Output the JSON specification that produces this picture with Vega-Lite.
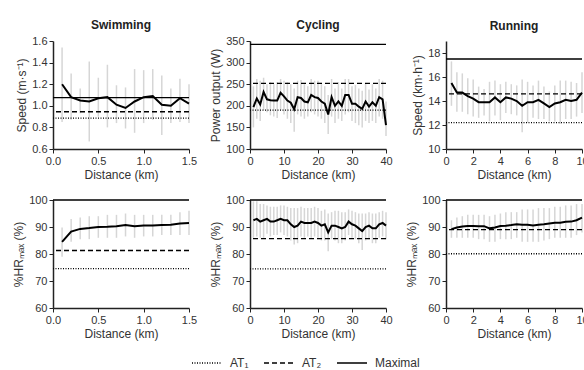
{
  "$schema": "https://vega.github.io/schema/vega-lite/v6.json",
  "padding": {"top": 19, "left": 12, "right": 0, "bottom": 4},
  "config": {
    "font": "Liberation Sans",
    "view": {"stroke": null},
    "axis": {"grid": false, "tickCount": 12, "labelFontSize": 11, "labelColor": "#333", "titleFontSize": 12, "titleFontWeight": "normal", "titleColor": "#333", "domainColor": "#222", "domainWidth": 1.5, "tickColor": "#222", "tickSize": 4, "tickWidth": 1, "labelPadding": 2, "titlePadding": 3, "labelOverlap": false, "labelFlush": false},
    "title": {"fontSize": 12, "fontWeight": "bold", "color": "#222"},
    "legend": {"orient": "none", "legendX": 138, "legendY": 306, "direction": "horizontal", "labelFontSize": 12, "labelColor": "#333", "symbolStrokeColor": "black", "symbolStrokeWidth": 1.3, "symbolSize": 900, "columnPadding": 12, "labelOffset": 7}
  },
  "datasets": {
    "swimSpeed": [
      {"d": 0.1, "m": 1.20, "lo": 0.85, "hi": 1.54},
      {"d": 0.2, "m": 1.08, "lo": 0.87, "hi": 1.30},
      {"d": 0.3, "m": 1.05, "lo": 0.93, "hi": 1.16},
      {"d": 0.4, "m": 1.04, "lo": 0.67, "hi": 1.41},
      {"d": 0.5, "m": 1.07, "lo": 0.90, "hi": 1.26},
      {"d": 0.6, "m": 1.08, "lo": 0.80, "hi": 1.38},
      {"d": 0.7, "m": 1.01, "lo": 0.84, "hi": 1.19},
      {"d": 0.8, "m": 0.98, "lo": 0.79, "hi": 1.17},
      {"d": 0.9, "m": 1.04, "lo": 0.75, "hi": 1.34},
      {"d": 1.0, "m": 1.08, "lo": 0.84, "hi": 1.33},
      {"d": 1.1, "m": 1.09, "lo": 0.87, "hi": 1.34},
      {"d": 1.2, "m": 1.01, "lo": 0.73, "hi": 1.28},
      {"d": 1.3, "m": 1.00, "lo": 0.84, "hi": 1.16},
      {"d": 1.4, "m": 1.07, "lo": 0.85, "hi": 1.25},
      {"d": 1.5, "m": 1.02, "lo": 0.84, "hi": 1.20}
    ],
    "cyclePower": [
      {"d": 1, "m": 197, "lo": 150, "hi": 245},
      {"d": 2, "m": 217, "lo": 170, "hi": 262},
      {"d": 3, "m": 203, "lo": 165, "hi": 258},
      {"d": 4, "m": 232, "lo": 190, "hi": 265},
      {"d": 5, "m": 215, "lo": 185, "hi": 250},
      {"d": 6, "m": 213, "lo": 178, "hi": 255},
      {"d": 7, "m": 212, "lo": 175, "hi": 250},
      {"d": 8, "m": 212, "lo": 172, "hi": 255},
      {"d": 9, "m": 230, "lo": 190, "hi": 262},
      {"d": 10, "m": 222, "lo": 180, "hi": 258},
      {"d": 11, "m": 212, "lo": 170, "hi": 255},
      {"d": 12, "m": 207, "lo": 160, "hi": 250},
      {"d": 13, "m": 192, "lo": 140, "hi": 240},
      {"d": 14, "m": 220, "lo": 180, "hi": 258},
      {"d": 15, "m": 218, "lo": 175, "hi": 260},
      {"d": 16, "m": 210, "lo": 170, "hi": 250},
      {"d": 17, "m": 208, "lo": 175, "hi": 245},
      {"d": 18, "m": 225, "lo": 185, "hi": 262},
      {"d": 19, "m": 220, "lo": 180, "hi": 258},
      {"d": 20, "m": 218, "lo": 175, "hi": 258},
      {"d": 21, "m": 210, "lo": 170, "hi": 250},
      {"d": 22, "m": 205, "lo": 160, "hi": 245},
      {"d": 23, "m": 180, "lo": 135, "hi": 225},
      {"d": 24, "m": 220, "lo": 175, "hi": 262},
      {"d": 25, "m": 200, "lo": 160, "hi": 240},
      {"d": 26, "m": 210, "lo": 170, "hi": 255},
      {"d": 27, "m": 200, "lo": 165, "hi": 240},
      {"d": 28, "m": 225, "lo": 180, "hi": 262},
      {"d": 29, "m": 225, "lo": 185, "hi": 262},
      {"d": 30, "m": 205, "lo": 165, "hi": 245},
      {"d": 31, "m": 205, "lo": 160, "hi": 248},
      {"d": 32, "m": 198, "lo": 155, "hi": 240},
      {"d": 33, "m": 193, "lo": 150, "hi": 235},
      {"d": 34, "m": 210, "lo": 165, "hi": 252},
      {"d": 35, "m": 198, "lo": 160, "hi": 238},
      {"d": 36, "m": 208, "lo": 165, "hi": 250},
      {"d": 37, "m": 200, "lo": 160, "hi": 240},
      {"d": 38, "m": 220, "lo": 175, "hi": 262},
      {"d": 39, "m": 215, "lo": 170, "hi": 258},
      {"d": 40, "m": 155, "lo": 130, "hi": 210}
    ],
    "runSpeed": [
      {"d": 0.4, "m": 15.5, "lo": 13.6, "hi": 17.3},
      {"d": 0.8, "m": 14.7, "lo": 13.1, "hi": 16.4},
      {"d": 1.2, "m": 14.7, "lo": 13.1, "hi": 16.3},
      {"d": 1.6, "m": 14.4, "lo": 12.9, "hi": 15.9},
      {"d": 2.0, "m": 14.2, "lo": 12.7, "hi": 15.8},
      {"d": 2.4, "m": 13.9, "lo": 12.6, "hi": 15.2},
      {"d": 2.8, "m": 13.9, "lo": 12.8, "hi": 15.0},
      {"d": 3.2, "m": 13.9, "lo": 12.3, "hi": 15.6},
      {"d": 3.6, "m": 14.3, "lo": 12.8, "hi": 15.7},
      {"d": 4.0, "m": 13.9, "lo": 12.4, "hi": 15.4},
      {"d": 4.4, "m": 14.3, "lo": 13.0, "hi": 15.6},
      {"d": 4.8, "m": 14.2, "lo": 12.9, "hi": 15.4},
      {"d": 5.2, "m": 14.0, "lo": 12.8, "hi": 15.3},
      {"d": 5.6, "m": 13.6, "lo": 11.4, "hi": 15.8},
      {"d": 6.0, "m": 13.9, "lo": 12.2, "hi": 15.6},
      {"d": 6.4, "m": 13.9, "lo": 12.6, "hi": 15.3},
      {"d": 6.8, "m": 14.1, "lo": 12.5, "hi": 15.7},
      {"d": 7.2, "m": 13.8, "lo": 12.5, "hi": 15.2},
      {"d": 7.6, "m": 13.5, "lo": 12.3, "hi": 14.8},
      {"d": 8.0, "m": 13.8, "lo": 12.3, "hi": 15.3},
      {"d": 8.4, "m": 13.9, "lo": 12.1, "hi": 15.7},
      {"d": 8.8, "m": 14.1, "lo": 12.5, "hi": 15.7},
      {"d": 9.2, "m": 14.0, "lo": 12.5, "hi": 15.6},
      {"d": 9.6, "m": 14.1, "lo": 12.7, "hi": 15.5},
      {"d": 10.0, "m": 14.7, "lo": 13.0, "hi": 16.4}
    ],
    "swimHR": [
      {"d": 0.1, "m": 84.5, "lo": 79, "hi": 89.8},
      {"d": 0.2, "m": 88.3, "lo": 84.5, "hi": 93},
      {"d": 0.3, "m": 89.3, "lo": 85.5, "hi": 93.5},
      {"d": 0.4, "m": 89.6, "lo": 85.5, "hi": 94},
      {"d": 0.5, "m": 90.0, "lo": 86, "hi": 94},
      {"d": 0.6, "m": 90.1, "lo": 86, "hi": 94.5},
      {"d": 0.7, "m": 90.3, "lo": 86, "hi": 94.5},
      {"d": 0.8, "m": 90.7, "lo": 86.5, "hi": 95},
      {"d": 0.9, "m": 90.3, "lo": 86, "hi": 94.5},
      {"d": 1.0, "m": 90.6, "lo": 86.5, "hi": 94.5},
      {"d": 1.1, "m": 90.6, "lo": 86.5, "hi": 94.5},
      {"d": 1.2, "m": 90.7, "lo": 87, "hi": 94.5},
      {"d": 1.3, "m": 90.8, "lo": 87, "hi": 94.5},
      {"d": 1.4, "m": 91.3, "lo": 87, "hi": 95.5},
      {"d": 1.5, "m": 91.5, "lo": 87, "hi": 96}
    ],
    "cycleHR": [
      {"d": 1, "m": 92.5, "lo": 86, "hi": 99.5},
      {"d": 2, "m": 93, "lo": 86.5, "hi": 99.5},
      {"d": 3, "m": 92, "lo": 86, "hi": 98.5},
      {"d": 4, "m": 92.5, "lo": 86, "hi": 98.5},
      {"d": 5, "m": 93, "lo": 87.5, "hi": 98},
      {"d": 6, "m": 92, "lo": 86.5, "hi": 97.5},
      {"d": 7, "m": 92, "lo": 87, "hi": 97.5},
      {"d": 8, "m": 92.5, "lo": 87, "hi": 97.5},
      {"d": 9, "m": 93, "lo": 88, "hi": 98},
      {"d": 10, "m": 92.5, "lo": 87, "hi": 98},
      {"d": 11, "m": 92.5, "lo": 86.5, "hi": 97.5},
      {"d": 12, "m": 91, "lo": 85, "hi": 97},
      {"d": 13, "m": 90, "lo": 83.5, "hi": 97},
      {"d": 14, "m": 90.5, "lo": 84, "hi": 97},
      {"d": 15, "m": 92, "lo": 86.5, "hi": 97.5},
      {"d": 16, "m": 91.5, "lo": 86, "hi": 97},
      {"d": 17, "m": 91.5, "lo": 86.5, "hi": 97},
      {"d": 18, "m": 91.5, "lo": 86, "hi": 97},
      {"d": 19, "m": 92, "lo": 86.5, "hi": 97.5},
      {"d": 20, "m": 91.5, "lo": 86, "hi": 97},
      {"d": 21, "m": 90.5, "lo": 85, "hi": 96},
      {"d": 22, "m": 91, "lo": 85, "hi": 96.5},
      {"d": 23, "m": 88, "lo": 81, "hi": 95},
      {"d": 24, "m": 90.5, "lo": 85.5, "hi": 95.5},
      {"d": 25, "m": 90.5, "lo": 85, "hi": 96},
      {"d": 26, "m": 90, "lo": 84, "hi": 96},
      {"d": 27, "m": 89.5, "lo": 84, "hi": 95.5},
      {"d": 28, "m": 90, "lo": 85, "hi": 95.5},
      {"d": 29, "m": 92, "lo": 87, "hi": 96.5},
      {"d": 30, "m": 91, "lo": 86, "hi": 96},
      {"d": 31, "m": 90.5, "lo": 85.5, "hi": 95.5},
      {"d": 32, "m": 89.5, "lo": 84, "hi": 95},
      {"d": 33, "m": 88.5, "lo": 81.5, "hi": 95},
      {"d": 34, "m": 90, "lo": 85, "hi": 95},
      {"d": 35, "m": 90.5, "lo": 85.5, "hi": 95.5},
      {"d": 36, "m": 89.5, "lo": 84, "hi": 95},
      {"d": 37, "m": 89.5, "lo": 84, "hi": 95},
      {"d": 38, "m": 91, "lo": 86, "hi": 95.5},
      {"d": 39, "m": 91.5, "lo": 86.5, "hi": 96},
      {"d": 40, "m": 90.5, "lo": 85.5, "hi": 95.5}
    ],
    "runHR": [
      {"d": 0.4, "m": 89.2, "lo": 86, "hi": 92.5},
      {"d": 0.8, "m": 89.8, "lo": 86, "hi": 93.5},
      {"d": 1.2, "m": 90.2, "lo": 86, "hi": 94},
      {"d": 1.6, "m": 90.4, "lo": 86, "hi": 94.5},
      {"d": 2.0, "m": 90.4, "lo": 86, "hi": 94.5},
      {"d": 2.4, "m": 90.3, "lo": 85.5, "hi": 94.5},
      {"d": 2.8, "m": 90.3, "lo": 85.5, "hi": 94.5},
      {"d": 3.2, "m": 89.5, "lo": 84.5, "hi": 94},
      {"d": 3.6, "m": 89.8, "lo": 84.5, "hi": 94.5},
      {"d": 4.0, "m": 90.4, "lo": 85.5, "hi": 95},
      {"d": 4.4, "m": 90.5, "lo": 85.5, "hi": 95.5},
      {"d": 4.8, "m": 90.7, "lo": 85.5, "hi": 95.5},
      {"d": 5.2, "m": 91.0, "lo": 86, "hi": 95.5},
      {"d": 5.6, "m": 90.8, "lo": 84.5, "hi": 96.5},
      {"d": 6.0, "m": 90.8, "lo": 84.5, "hi": 96.5},
      {"d": 6.4, "m": 90.6, "lo": 84.5, "hi": 96.5},
      {"d": 6.8, "m": 90.8, "lo": 84.5, "hi": 97},
      {"d": 7.2, "m": 91.0, "lo": 85, "hi": 97},
      {"d": 7.6, "m": 91.3, "lo": 85.5, "hi": 97},
      {"d": 8.0, "m": 91.6, "lo": 86, "hi": 97.5},
      {"d": 8.4, "m": 91.6, "lo": 86, "hi": 97.5},
      {"d": 8.8, "m": 91.9, "lo": 86, "hi": 98},
      {"d": 9.2, "m": 92.0, "lo": 86, "hi": 98},
      {"d": 9.6, "m": 92.5, "lo": 87, "hi": 98.5},
      {"d": 10.0, "m": 93.5, "lo": 88, "hi": 98.5}
    ],
    "thr": [
      {"p": "swimSpeed", "t": "AT₁", "v": 0.885},
      {"p": "swimSpeed", "t": "AT₂", "v": 0.945},
      {"p": "swimSpeed", "t": "Maximal", "v": 1.075},
      {"p": "cyclePower", "t": "AT₁", "v": 190},
      {"p": "cyclePower", "t": "AT₂", "v": 252},
      {"p": "cyclePower", "t": "Maximal", "v": 342},
      {"p": "runSpeed", "t": "AT₁", "v": 12.2},
      {"p": "runSpeed", "t": "AT₂", "v": 14.6},
      {"p": "runSpeed", "t": "Maximal", "v": 17.5},
      {"p": "swimHR", "t": "AT₁", "v": 74.6},
      {"p": "swimHR", "t": "AT₂", "v": 81.3},
      {"p": "swimHR", "t": "Maximal", "v": 100},
      {"p": "cycleHR", "t": "AT₁", "v": 74.5},
      {"p": "cycleHR", "t": "AT₂", "v": 85.7},
      {"p": "cycleHR", "t": "Maximal", "v": 100},
      {"p": "runHR", "t": "AT₁", "v": 80.1},
      {"p": "runHR", "t": "AT₂", "v": 89.0},
      {"p": "runHR", "t": "Maximal", "v": 100}
    ]
  },
  "resolve": {"scale": {"strokeDash": "shared"}, "legend": {"strokeDash": "shared"}},
  "columns": 3,
  "spacing": {"row": 14, "column": 12},
  "concat": [
    {
      "width": 136, "height": 108,
      "title": {"text": "Swimming", "offset": 3},
      "layer": [
        {"data": {"name": "swimSpeed"}, "mark": {"type": "rule", "color": "#d6d6d6", "strokeWidth": 1.5},
         "encoding": {
           "x": {"field": "d", "type": "quantitative", "scale": {"domain": [0, 1.5], "nice": false}, "axis": {"values": [0, 0.5, 1, 1.5], "format": ".1f", "title": "Distance (km)"}},
           "y": {"field": "lo", "type": "quantitative", "scale": {"domain": [0.6, 1.6], "nice": false}, "axis": {"values": [0.6, 0.8, 1.0, 1.2, 1.4, 1.6], "format": ".1f", "title": "Speed (m·s⁻¹)"}},
           "y2": {"field": "hi"}}},
        {"data": {"name": "swimSpeed"}, "mark": {"type": "line", "color": "black", "strokeWidth": 2},
         "encoding": {"x": {"field": "d", "type": "quantitative"}, "y": {"field": "m", "type": "quantitative"}}},
        {"data": {"name": "thr"}, "transform": [{"filter": "datum.p == 'swimSpeed'"}], "mark": {"type": "rule", "color": "black", "strokeWidth": 1.3},
         "encoding": {"y": {"field": "v", "type": "quantitative"},
           "strokeDash": {"field": "t", "type": "nominal", "scale": {"domain": ["AT₁", "AT₂", "Maximal"], "range": [[1, 1.5], [5, 3], [1, 0]]}, "legend": {"title": null}}}}
      ]
    },
    {
      "width": 136, "height": 108,
      "title": {"text": "Cycling", "offset": 3},
      "layer": [
        {"data": {"name": "cyclePower"}, "mark": {"type": "rule", "color": "#d6d6d6", "strokeWidth": 1.5},
         "encoding": {
           "x": {"field": "d", "type": "quantitative", "scale": {"domain": [0, 40], "nice": false}, "axis": {"values": [0, 10, 20, 30, 40], "title": "Distance (km)"}},
           "y": {"field": "lo", "type": "quantitative", "scale": {"domain": [100, 350], "nice": false}, "axis": {"values": [100, 150, 200, 250, 300, 350], "title": "Power output (W)"}},
           "y2": {"field": "hi"}}},
        {"data": {"name": "cyclePower"}, "mark": {"type": "line", "color": "black", "strokeWidth": 2},
         "encoding": {"x": {"field": "d", "type": "quantitative"}, "y": {"field": "m", "type": "quantitative"}}},
        {"data": {"name": "thr"}, "transform": [{"filter": "datum.p == 'cyclePower'"}], "mark": {"type": "rule", "color": "black", "strokeWidth": 1.3},
         "encoding": {"y": {"field": "v", "type": "quantitative"},
           "strokeDash": {"field": "t", "type": "nominal", "legend": {"title": null}}}}
      ]
    },
    {
      "width": 136, "height": 108,
      "title": {"text": "Running", "offset": 8},
      "layer": [
        {"data": {"name": "runSpeed"}, "mark": {"type": "rule", "color": "#d6d6d6", "strokeWidth": 1.5},
         "encoding": {
           "x": {"field": "d", "type": "quantitative", "scale": {"domain": [0, 10], "nice": false}, "axis": {"values": [0, 2, 4, 6, 8, 10], "title": "Distance (km)"}},
           "y": {"field": "lo", "type": "quantitative", "scale": {"domain": [10, 19], "nice": false}, "axis": {"values": [10, 12, 14, 16, 18], "title": "Speed (km·h⁻¹)"}},
           "y2": {"field": "hi"}}},
        {"data": {"name": "runSpeed"}, "mark": {"type": "line", "color": "black", "strokeWidth": 2},
         "encoding": {"x": {"field": "d", "type": "quantitative"}, "y": {"field": "m", "type": "quantitative"}}},
        {"data": {"name": "thr"}, "transform": [{"filter": "datum.p == 'runSpeed'"}], "mark": {"type": "rule", "color": "black", "strokeWidth": 1.3},
         "encoding": {"y": {"field": "v", "type": "quantitative"},
           "strokeDash": {"field": "t", "type": "nominal", "legend": {"title": null}}}}
      ]
    },
    {
      "width": 136, "height": 108,
      "layer": [
        {"data": {"name": "swimHR"}, "mark": {"type": "rule", "color": "#d6d6d6", "strokeWidth": 1.5},
         "encoding": {
           "x": {"field": "d", "type": "quantitative", "scale": {"domain": [0, 1.5], "nice": false}, "axis": {"values": [0, 0.5, 1, 1.5], "format": ".1f", "title": "Distance (km)"}},
           "y": {"field": "lo", "type": "quantitative", "scale": {"domain": [60, 100], "nice": false}, "axis": {"values": [60, 70, 80, 90, 100], "title": "%HRₘₐₓ (%)"}},
           "y2": {"field": "hi"}}},
        {"data": {"name": "swimHR"}, "mark": {"type": "line", "color": "black", "strokeWidth": 2},
         "encoding": {"x": {"field": "d", "type": "quantitative"}, "y": {"field": "m", "type": "quantitative"}}},
        {"data": {"name": "thr"}, "transform": [{"filter": "datum.p == 'swimHR'"}], "mark": {"type": "rule", "color": "black", "strokeWidth": 1.3},
         "encoding": {"y": {"field": "v", "type": "quantitative"},
           "strokeDash": {"field": "t", "type": "nominal", "legend": {"title": null}}}}
      ]
    },
    {
      "width": 136, "height": 108,
      "layer": [
        {"data": {"name": "cycleHR"}, "mark": {"type": "rule", "color": "#d6d6d6", "strokeWidth": 1.5},
         "encoding": {
           "x": {"field": "d", "type": "quantitative", "scale": {"domain": [0, 40], "nice": false}, "axis": {"values": [0, 10, 20, 30, 40], "title": "Distance (km)"}},
           "y": {"field": "lo", "type": "quantitative", "scale": {"domain": [60, 100], "nice": false}, "axis": {"values": [60, 70, 80, 90, 100], "title": "%HRₘₐₓ (%)"}},
           "y2": {"field": "hi"}}},
        {"data": {"name": "cycleHR"}, "mark": {"type": "line", "color": "black", "strokeWidth": 2},
         "encoding": {"x": {"field": "d", "type": "quantitative"}, "y": {"field": "m", "type": "quantitative"}}},
        {"data": {"name": "thr"}, "transform": [{"filter": "datum.p == 'cycleHR'"}], "mark": {"type": "rule", "color": "black", "strokeWidth": 1.3},
         "encoding": {"y": {"field": "v", "type": "quantitative"},
           "strokeDash": {"field": "t", "type": "nominal", "legend": {"title": null}}}}
      ]
    },
    {
      "width": 136, "height": 108,
      "layer": [
        {"data": {"name": "runHR"}, "mark": {"type": "rule", "color": "#d6d6d6", "strokeWidth": 1.5},
         "encoding": {
           "x": {"field": "d", "type": "quantitative", "scale": {"domain": [0, 10], "nice": false}, "axis": {"values": [0, 2, 4, 6, 8, 10], "title": "Distance (km)"}},
           "y": {"field": "lo", "type": "quantitative", "scale": {"domain": [60, 100], "nice": false}, "axis": {"values": [60, 70, 80, 90, 100], "title": "%HRₘₐₓ (%)"}},
           "y2": {"field": "hi"}}},
        {"data": {"name": "runHR"}, "mark": {"type": "line", "color": "black", "strokeWidth": 2},
         "encoding": {"x": {"field": "d", "type": "quantitative"}, "y": {"field": "m", "type": "quantitative"}}},
        {"data": {"name": "thr"}, "transform": [{"filter": "datum.p == 'runHR'"}], "mark": {"type": "rule", "color": "black", "strokeWidth": 1.3},
         "encoding": {"y": {"field": "v", "type": "quantitative"},
           "strokeDash": {"field": "t", "type": "nominal", "legend": {"title": null}}}}
      ]
    }
  ]
}
